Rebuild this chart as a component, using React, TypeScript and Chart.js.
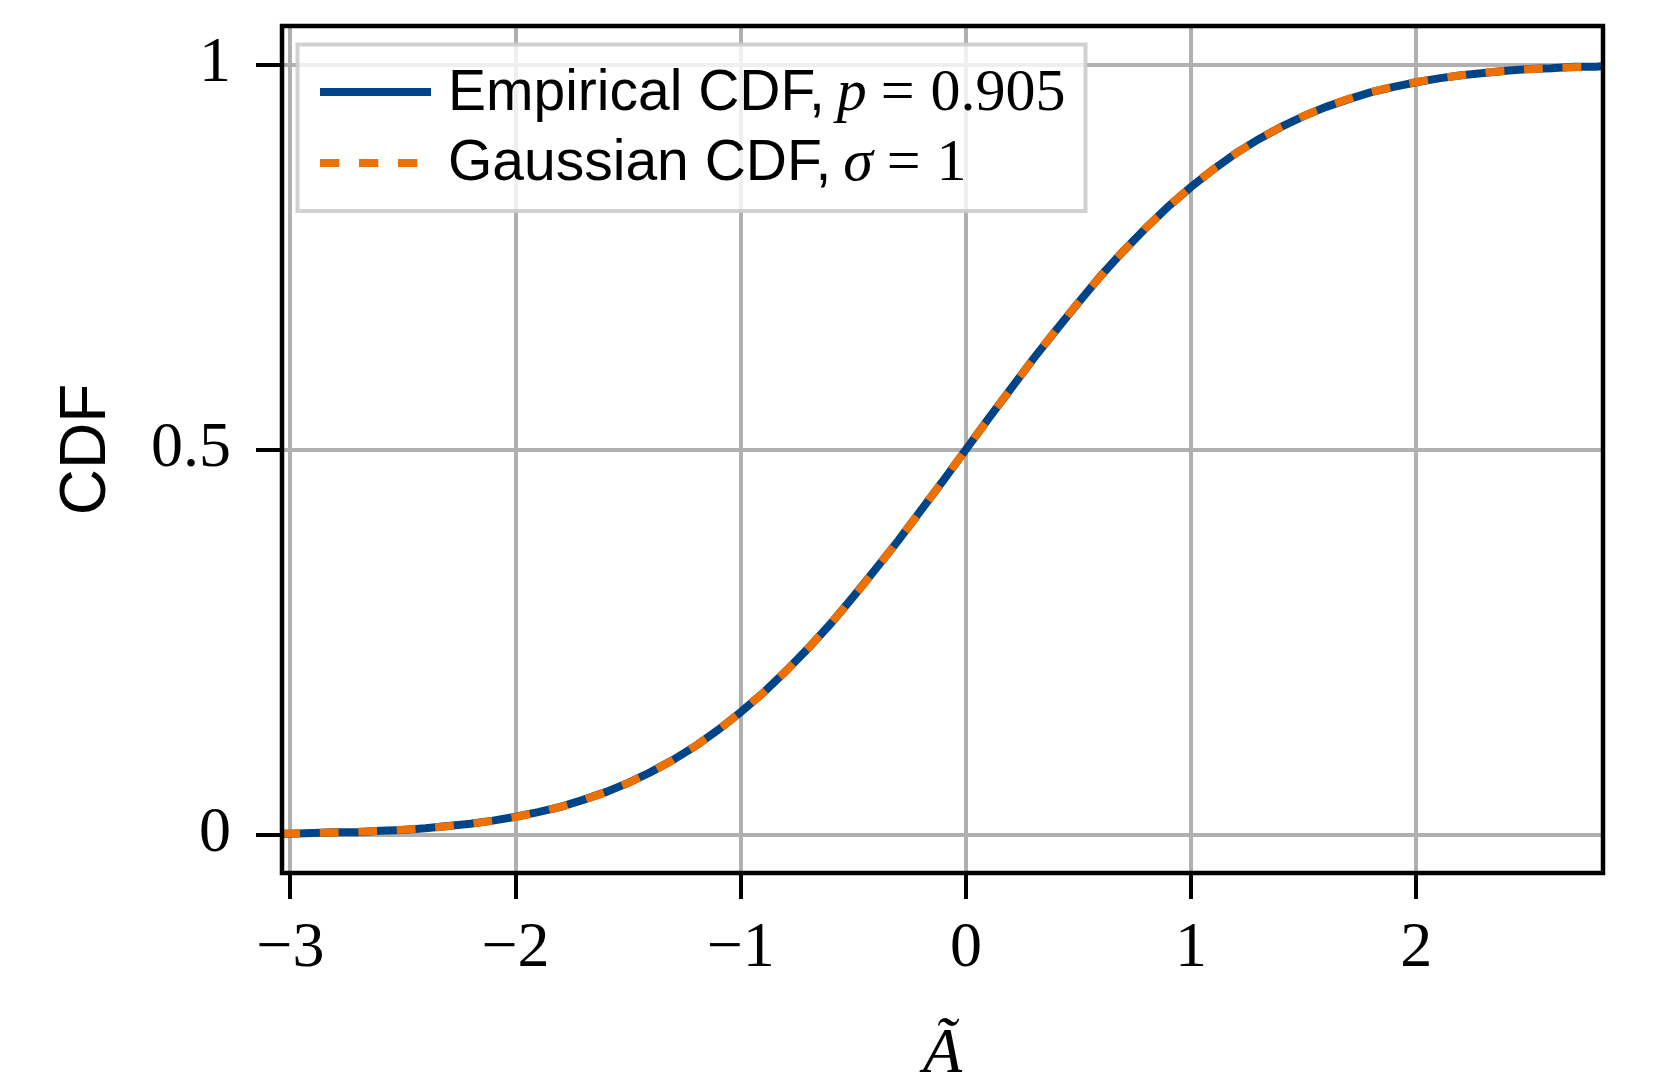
import React, { useEffect, useRef } from 'react';
import { Chart, registerables } from 'chart.js';

Chart.register(...registerables);

// ---- data ----
const xPoints = [
  -3.04, -3.0, -2.9, -2.8, -2.7, -2.6, -2.5, -2.4, -2.3, -2.2, -2.1,
  -2.0, -1.9, -1.8, -1.7, -1.6, -1.5, -1.4, -1.3, -1.2, -1.1,
  -1.0, -0.9, -0.8, -0.7, -0.6, -0.5, -0.4, -0.3, -0.2, -0.1,
  0.0, 0.1, 0.2, 0.3, 0.4, 0.5, 0.6, 0.7, 0.8, 0.9,
  1.0, 1.1, 1.2, 1.3, 1.4, 1.5, 1.6, 1.7, 1.8, 1.9,
  2.0, 2.1, 2.2, 2.3, 2.4, 2.5, 2.6, 2.7, 2.8, 2.83,
];

const empiricalCdf = [
  0.001, 0.001, 0.002, 0.003, 0.003, 0.005, 0.006, 0.008, 0.011, 0.014, 0.018,
  0.023, 0.029, 0.036, 0.045, 0.055, 0.067, 0.081, 0.097, 0.115, 0.136,
  0.159, 0.184, 0.212, 0.242, 0.274, 0.309, 0.345, 0.382, 0.421, 0.46,
  0.5, 0.54, 0.579, 0.618, 0.655, 0.691, 0.726, 0.758, 0.788, 0.816,
  0.841, 0.864, 0.885, 0.903, 0.919, 0.933, 0.945, 0.955, 0.964, 0.971,
  0.977, 0.982, 0.986, 0.989, 0.992, 0.994, 0.995, 0.997, 0.997, 0.998,
];

const gaussianCdf = [
  0.0012, 0.0013, 0.0019, 0.0026, 0.0035, 0.0047, 0.0062, 0.0082, 0.0107, 0.0139, 0.0179,
  0.0228, 0.0287, 0.0359, 0.0446, 0.0548, 0.0668, 0.0808, 0.0968, 0.1151, 0.1357,
  0.1587, 0.1841, 0.2119, 0.242, 0.2743, 0.3085, 0.3446, 0.3821, 0.4207, 0.4602,
  0.5, 0.5398, 0.5793, 0.6179, 0.6554, 0.6915, 0.7257, 0.758, 0.7881, 0.8159,
  0.8413, 0.8643, 0.8849, 0.9032, 0.9192, 0.9332, 0.9452, 0.9554, 0.9641, 0.9713,
  0.9772, 0.9821, 0.9861, 0.9893, 0.9918, 0.9938, 0.9953, 0.9965, 0.9974, 0.9977,
];

const xTickValues = [-3, -2, -1, 0, 1, 2];
const xTickLabels = ['\u22123', '\u22122', '\u22121', '0', '1', '2'];
const yTickValues = [0, 0.5, 1];
const yTickLabels = ['0', '0.5', '1'];
const xLimits = [-3.037, 2.829];
const yLimits = [-0.05, 1.05];

const seriesNames = ['Empirical CDF, ', 'Gaussian CDF, '];
const seriesMathVars = ['p', '\u03c3'];
const seriesMathValues = ['0.905', '1'];
const xTitle = '\u00c3';
const yTitle = 'CDF';

const BLUE = '#004488';
const ORANGE = '#ee7000';
const SERIF = '"Liberation Serif", "DejaVu Serif", serif';
const SANS = '"Liberation Sans", Arial, sans-serif';

const W = 1661;
const H = 1079;

const decorPlugin = {
  id: 'decor',
  afterDraw(chart: any) {
    const { ctx, chartArea: ca } = chart;
    ctx.save();

    // legend box
    const lx = ca.left + 15.5;
    const ly = ca.top + 18.5;
    const lw = 788;
    const lh = 166.5;
    ctx.fillStyle = 'rgba(255,255,255,0.8)';
    ctx.fillRect(lx, ly, lw, lh);
    ctx.strokeStyle = 'rgba(204,204,204,0.9)';
    ctx.lineWidth = 4;
    ctx.strokeRect(lx, ly, lw, lh);

    const rows = [
      { y: ly + 47.5, base: ly + 65.5, color: BLUE, dash: [] as number[] },
      { y: ly + 118.5, base: ly + 135.5, color: ORANGE, dash: [19.3, 19.7] },
    ];
    rows.forEach((r, i) => {
      ctx.beginPath();
      ctx.setLineDash(r.dash);
      ctx.lineCap = 'butt';
      ctx.strokeStyle = r.color;
      ctx.lineWidth = 8;
      ctx.moveTo(lx + 22.5, r.y);
      ctx.lineTo(lx + 133.5, r.y);
      ctx.stroke();
      ctx.setLineDash([]);

      let tx = lx + 150.5;
      ctx.fillStyle = '#000';
      ctx.textBaseline = 'alphabetic';
      ctx.textAlign = 'left';
      ctx.font = `57px ${SANS}`;
      ctx.fillText(seriesNames[i], tx, r.base);
      tx += ctx.measureText(seriesNames[i]).width - 4;
      ctx.font = `italic 60px ${SERIF}`;
      ctx.fillText(seriesMathVars[i], tx, r.base);
      tx += ctx.measureText(seriesMathVars[i]).width + 14;
      ctx.font = `60px ${SERIF}`;
      ctx.fillText('=', tx, r.base);
      tx += ctx.measureText('=').width + 16;
      ctx.fillText(seriesMathValues[i], tx, r.base);
    });

    // spines
    ctx.strokeStyle = '#000';
    ctx.lineWidth = 4.5;
    ctx.strokeRect(ca.left, ca.top, ca.right - ca.left, ca.bottom - ca.top);

    // axis titles
    ctx.fillStyle = '#000';
    ctx.textAlign = 'center';
    ctx.textBaseline = 'alphabetic';
    ctx.font = `italic 64px ${SERIF}`;
    ctx.fillText(xTitle, (ca.left + ca.right) / 2, 1072);

    ctx.save();
    ctx.translate(105, (ca.top + ca.bottom) / 2);
    ctx.rotate(-Math.PI / 2);
    ctx.font = `64px ${SANS}`;
    ctx.fillText(yTitle, 0, 0);
    ctx.restore();

    ctx.restore();
  },
};

export default function App() {
  const canvasRef = useRef<HTMLCanvasElement | null>(null);

  useEffect(() => {
    const canvas = canvasRef.current;
    if (!canvas) return;
    const chart = new Chart(canvas, {
      type: 'line',
      data: {
        datasets: [
          {
            label: 'Empirical CDF',
            data: xPoints.map((x, i) => ({ x, y: empiricalCdf[i] })),
            borderColor: BLUE,
            borderWidth: 8,
            pointRadius: 0,
            tension: 0,
            fill: false,
            order: 2,
            borderCapStyle: 'butt',
          },
          {
            label: 'Gaussian CDF',
            data: xPoints.map((x, i) => ({ x, y: gaussianCdf[i] })),
            borderColor: ORANGE,
            borderWidth: 8,
            borderDash: [18.8, 19.7],
            pointRadius: 0,
            tension: 0,
            fill: false,
            order: 1,
            borderCapStyle: 'butt',
          },
        ],
      },
      options: {
        animation: false,
        responsive: false,
        devicePixelRatio: 1,
        layout: { padding: { top: 26, right: 58, bottom: 0, left: 0 } },
        plugins: {
          legend: { display: false },
          tooltip: { enabled: false },
          title: { display: false },
        },
        scales: {
          x: {
            type: 'linear',
            min: xLimits[0],
            max: xLimits[1],
            afterBuildTicks: (scale: any) => {
              scale.ticks = xTickValues.map((v) => ({ value: v }));
            },
            afterFit: (scale: any) => {
              scale.height = 206;
              scale.paddingLeft = 0;
              scale.paddingRight = 0;
            },
            border: { display: false },
            grid: {
              color: '#b0b0b0',
              lineWidth: 4,
              drawTicks: true,
              tickLength: 26,
              tickColor: '#000',
              tickWidth: 4,
            },
            ticks: {
              autoSkip: false,
              maxRotation: 0,
              padding: 12,
              color: '#000',
              font: { family: SERIF, size: 64, lineHeight: 1.2 },
              callback: (value: any) => {
                const i = xTickValues.indexOf(Number(value));
                return i >= 0 ? xTickLabels[i] : '';
              },
            },
          },
          y: {
            type: 'linear',
            min: yLimits[0],
            max: yLimits[1],
            afterBuildTicks: (scale: any) => {
              scale.ticks = yTickValues.map((v) => ({ value: v }));
            },
            afterFit: (scale: any) => {
              scale.width = 282;
              scale.paddingTop = 0;
              scale.paddingBottom = 0;
            },
            border: { display: false },
            grid: {
              color: '#b0b0b0',
              lineWidth: 4,
              drawTicks: true,
              tickLength: 26,
              tickColor: '#000',
              tickWidth: 4,
            },
            ticks: {
              autoSkip: false,
              padding: 25,
              color: '#000',
              font: { family: SERIF, size: 64, lineHeight: 1.2 },
              callback: (value: any) => {
                const i = yTickValues.indexOf(Number(value));
                return i >= 0 ? yTickLabels[i] : '';
              },
            },
          },
        },
      } as any,
      plugins: [decorPlugin],
    });
    return () => chart.destroy();
  }, []);

  return (
    <div style={{ position: 'absolute', left: 0, top: 0, width: W, height: H, background: '#fff' }}>
      <canvas ref={canvasRef} width={W} height={H} style={{ display: 'block', width: W, height: H }} />
    </div>
  );
}
